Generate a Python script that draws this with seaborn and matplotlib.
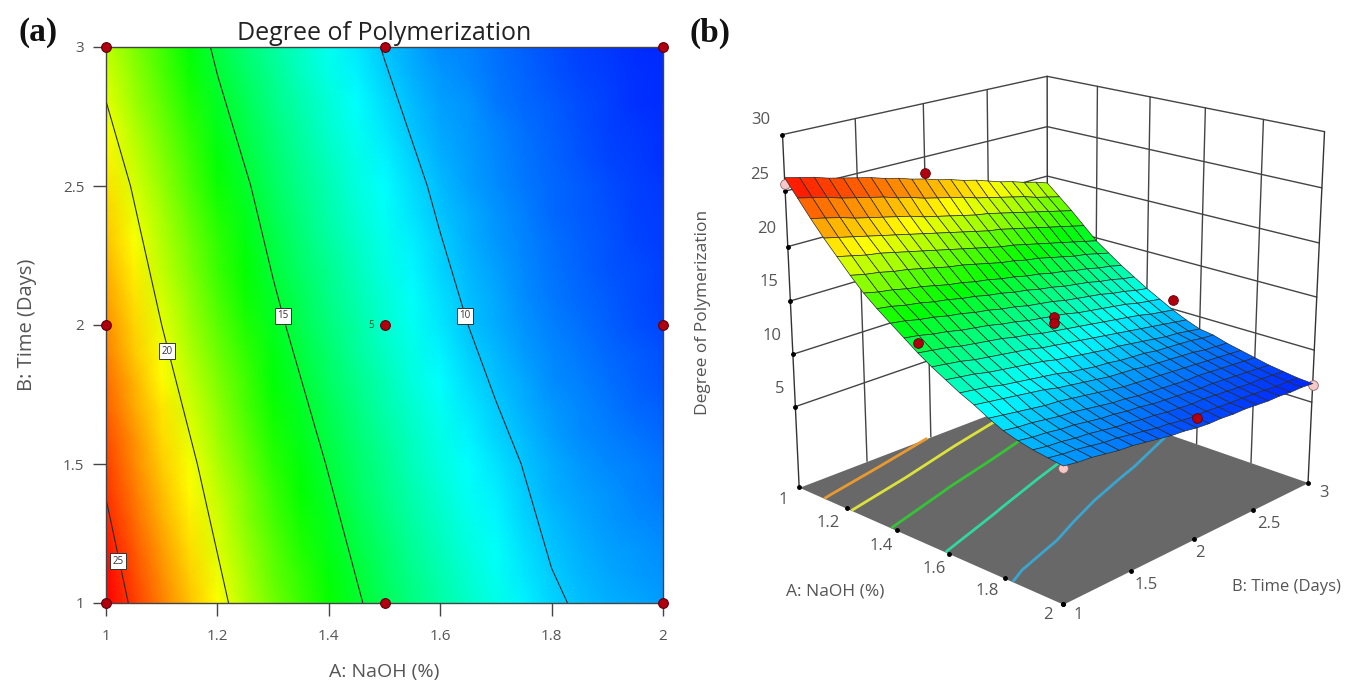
import numpy as np
import pandas as pd
import seaborn as sns
from matplotlib import pyplot as plt
from matplotlib.colors import LinearSegmentedColormap

naoh = [1.0, 1.05, 1.1, 1.15, 1.2, 1.25, 1.3, 1.35, 1.4, 1.45, 1.5, 1.55, 1.6, 1.65, 1.7, 1.75, 1.8, 1.85, 1.9, 1.95, 2.0]
days = [1.0, 1.1, 1.2, 1.3, 1.4, 1.5, 1.6, 1.7, 1.8, 1.9, 2.0, 2.1, 2.2, 2.3, 2.4, 2.5, 2.6, 2.7, 2.8, 2.9, 3.0]
# degree of polymerization, one row per time, estimated from the contour lines
dp = [
    [26.2, 24.7, 23.2, 21.8, 20.5, 19.2, 18.0, 17.0, 16.1, 15.2, 14.3, 13.5, 12.8, 12.1, 11.5, 10.8, 10.2, 9.8, 9.5, 9.3, 9.1],
    [25.9, 24.4, 22.9, 21.5, 20.2, 18.9, 17.7, 16.8, 15.9, 15.0, 14.1, 13.3, 12.6, 11.9, 11.3, 10.6, 10.0, 9.6, 9.3, 9.1, 8.9],
    [25.6, 24.1, 22.6, 21.2, 19.9, 18.7, 17.5, 16.5, 15.6, 14.7, 13.9, 13.1, 12.4, 11.7, 11.1, 10.4, 9.9, 9.5, 9.2, 9.0, 8.8],
    [25.2, 23.7, 22.2, 20.9, 19.7, 18.4, 17.2, 16.3, 15.4, 14.5, 13.6, 12.8, 12.1, 11.4, 10.9, 10.2, 9.7, 9.3, 9.0, 8.8, 8.6],
    [24.9, 23.4, 21.9, 20.6, 19.4, 18.2, 17.0, 16.0, 15.1, 14.2, 13.4, 12.6, 11.9, 11.2, 10.7, 10.0, 9.5, 9.2, 8.9, 8.6, 8.4],
    [24.6, 23.1, 21.6, 20.3, 19.1, 17.9, 16.7, 15.8, 14.9, 14.0, 13.2, 12.4, 11.7, 11.0, 10.5, 9.9, 9.4, 9.0, 8.7, 8.5, 8.3],
    [24.3, 22.8, 21.3, 20.0, 18.8, 17.6, 16.4, 15.5, 14.6, 13.8, 13.0, 12.2, 11.5, 10.8, 10.2, 9.7, 9.2, 8.8, 8.5, 8.3, 8.1],
    [23.9, 22.4, 21.0, 19.7, 18.5, 17.3, 16.2, 15.3, 14.4, 13.5, 12.7, 12.0, 11.3, 10.6, 10.0, 9.5, 9.0, 8.7, 8.4, 8.1, 7.9],
    [23.6, 22.1, 20.6, 19.4, 18.2, 17.1, 15.9, 15.0, 14.1, 13.3, 12.5, 11.7, 11.0, 10.3, 9.8, 9.3, 8.8, 8.5, 8.2, 7.9, 7.7],
    [23.2, 21.7, 20.3, 19.1, 17.9, 16.8, 15.7, 14.8, 13.9, 13.0, 12.2, 11.5, 10.8, 10.1, 9.6, 9.1, 8.7, 8.4, 8.1, 7.8, 7.6],
    [22.9, 21.4, 20.0, 18.8, 17.6, 16.5, 15.4, 14.5, 13.6, 12.8, 12.0, 11.3, 10.6, 9.9, 9.4, 8.9, 8.5, 8.2, 7.9, 7.6, 7.4],
    [22.5, 21.1, 19.7, 18.5, 17.3, 16.2, 15.2, 14.3, 13.4, 12.6, 11.8, 11.1, 10.4, 9.8, 9.3, 8.8, 8.4, 8.1, 7.8, 7.5, 7.3],
    [22.2, 20.8, 19.4, 18.2, 17.0, 16.0, 14.9, 14.0, 13.2, 12.4, 11.6, 10.9, 10.2, 9.6, 9.2, 8.7, 8.3, 8.0, 7.7, 7.5, 7.3],
    [21.8, 20.4, 19.2, 18.0, 16.8, 15.7, 14.7, 13.8, 12.9, 12.1, 11.4, 10.7, 10.1, 9.5, 9.0, 8.6, 8.2, 7.9, 7.7, 7.4, 7.2],
    [21.5, 20.1, 18.9, 17.7, 16.5, 15.5, 14.4, 13.5, 12.7, 11.9, 11.2, 10.5, 9.9, 9.4, 8.9, 8.5, 8.1, 7.8, 7.6, 7.3, 7.2],
    [21.1, 19.8, 18.6, 17.4, 16.2, 15.2, 14.2, 13.3, 12.5, 11.7, 11.0, 10.3, 9.7, 9.2, 8.8, 8.4, 8.1, 7.8, 7.5, 7.3, 7.1],
    [20.7, 19.5, 18.3, 17.1, 15.9, 14.9, 13.9, 13.1, 12.3, 11.5, 10.8, 10.1, 9.5, 9.1, 8.7, 8.3, 8.0, 7.7, 7.4, 7.2, 7.0],
    [20.4, 19.2, 18.0, 16.8, 15.6, 14.6, 13.7, 12.8, 12.0, 11.3, 10.6, 9.9, 9.3, 9.0, 8.6, 8.2, 7.9, 7.6, 7.3, 7.1, 7.0],
    [20.0, 18.8, 17.7, 16.5, 15.3, 14.4, 13.4, 12.6, 11.8, 11.0, 10.3, 9.7, 9.2, 8.9, 8.4, 8.1, 7.8, 7.5, 7.3, 7.0, 6.9],
    [19.7, 18.5, 17.4, 16.2, 15.0, 14.1, 13.2, 12.3, 11.5, 10.8, 10.1, 9.5, 9.0, 8.7, 8.3, 8.0, 7.7, 7.4, 7.2, 7.0, 6.9],
    [19.3, 18.2, 17.1, 15.9, 14.7, 13.8, 12.9, 12.1, 11.3, 10.6, 9.9, 9.3, 8.8, 8.6, 8.2, 7.9, 7.6, 7.3, 7.1, 6.9, 6.8],
]

design_a = [1, 1.5, 2, 1, 1.5, 2, 1, 1.5, 2]
design_b = [1, 1, 1, 2, 2, 2, 3, 3, 3]
contour_levels = [10, 15, 20, 25]
floor_levels = [10, 13, 16.5, 20, 23]
floor_colors = ['#3aa6d0', '#30d8a0', '#35c435', '#dce23c', '#e89a30']
a_ticks = [1, 1.2, 1.4, 1.6, 1.8, 2]
b_ticks = [1, 1.5, 2, 2.5, 3]
z_ticks = [5, 10, 15, 20, 25, 30]

# runs above / below the surface in (b)
red_a = [1.0, 1.5, 1.5, 1.5, 1.5, 2.0]
red_b = [2.0, 3.0, 1.0, 2.0, 2.0, 2.0]
red_z = [23.5, 10.9, 15.2, 13.3, 12.8, 8.3]
pink_a = [1.0, 2.0, 2.0]
pink_b = [1.0, 1.0, 3.0]
pink_z = [25.6, 8.95, 6.7]

W, H = 1345, 686
FLOOR, TOP = -2.9, 30
VMIN, VMAX = 6.0, 26.0
GREY = '#555555'


def fx(x):
    return x / W


def fy(y):
    return (H - y) / H


sns.set_style('white')
plt.rcParams['font.family'] = ['Open Sans', 'DejaVu Sans']

fig = plt.figure(figsize=(W / 100, H / 100), dpi=100)
dp_cmap = LinearSegmentedColormap.from_list(
    'dp', [(0, '#0000ff'), (0.25, '#00ffff'), (0.5, '#00ff00'), (0.725, '#ffff00'), (1, '#ff0000')])
dp_table = pd.DataFrame(dp, index=days, columns=naoh)

# (a) contour map
ax = fig.add_axes([fx(106), fy(603), 557 / W, 556 / H])
sns.heatmap(dp_table, ax=ax, cmap=dp_cmap, vmin=VMIN, vmax=VMAX, cbar=False,
            xticklabels=False, yticklabels=False, shading='gouraud')
ax.set_xlim(0, 20)
ax.set_ylim(0, 20)
# thinned grid keeps the lines from wobbling on the rounded values
ax.contour(np.arange(21)[::2], np.arange(21)[::5], dp_table.values[::5, ::2], levels=contour_levels,
           colors='#2b2b2b', linewidths=0.8)
ax.plot([(a - 1) * 20 for a in design_a], [(b - 1) * 10 for b in design_b], 'o', ms=7,
        mfc='#b00010', mec='#5a0008', mew=0.8, clip_on=False, zorder=5)
ax.set_xticks([(a - 1) * 20 for a in a_ticks], [str(a) for a in a_ticks])
ax.set_yticks([(b - 1) * 10 for b in b_ticks], [str(b) for b in b_ticks])
ax.tick_params(length=9.5, width=1, color='#444444', labelcolor=GREY, labelsize=11, bottom=True, left=True, pad=6)
ax.tick_params(axis='x', pad=9)
for sp in ax.spines.values():
    sp.set_visible(True)
    sp.set_color('#444444')
    sp.set_linewidth(1)
ax.set_title('Degree of Polymerization', fontsize=18, color='#222222', pad=5)
ax.set_xlabel('A: NaOH (%)', fontsize=14, color=GREY, labelpad=14)
ax.set_ylabel('B: Time (Days)', fontsize=14.5, color=GREY, labelpad=19)

for lab, x, y in [('25', 118, 561), ('20', 167, 351), ('15', 283, 316), ('10', 465, 316)]:
    fig.text(fx(x), fy(y), lab, fontsize=7, color='#333333', ha='center', va='center',
             bbox=dict(boxstyle='square,pad=0.25', fc='white', ec='#333333', lw=0.7))
fig.text(fx(371), fy(325), '5', fontsize=7, color='#2a5a2a', ha='center', va='center')
fig.text(fx(38), fy(33), '(a)', family='Liberation Serif', weight='bold', fontsize=24, color='#111111', ha='center', va='center')
fig.text(fx(710), fy(33), '(b)', family='Liberation Serif', weight='bold', fontsize=24, color='#111111', ha='center', va='center')

# (b) response surface, view fitted to the box corners of the reference
L = 624.6
ax3 = fig.add_axes([(1045.9 - L / 2) / W, (363 - L / 2) / H, L / W, L / H], projection='3d', computed_zorder=False)
ax3.set_axis_off()
ax3.set_xlim(1, 2, view_margin=0)
ax3.set_ylim(1, 3, view_margin=0)
ax3.set_zlim(FLOOR, TOP, view_margin=0)
ax3.view_init(elev=19.06, azim=-46.52)
ax3.set_proj_type('persp', focal_length=0.57)
ax3.set_box_aspect((1, 0.993, 0.998))

ax3.plot_surface(np.array([[1, 2], [1, 2]]), np.array([[1, 1], [3, 3]]), np.full((2, 2), FLOOR),
                 color='#686868', shade=False, linewidth=0, zorder=1)
for z in z_ticks:
    ax3.plot([1, 1, 2], [1, 3, 3], [z, z, z], color='#444444', lw=1, zorder=2)
for a in a_ticks[1:-1]:
    ax3.plot([a, a], [3, 3], [FLOOR, TOP], color='#444444', lw=1, zorder=2)
for b in b_ticks[1:-1]:
    ax3.plot([1, 1], [b, b], [FLOOR, TOP], color='#444444', lw=1, zorder=2)
for a, b in [(1, 1), (1, 3), (2, 3)]:
    ax3.plot([a, a], [b, b], [FLOOR, TOP], color='#333333', lw=1, zorder=2)
ax3.plot([1] * 6, [1] * 6, z_ticks, 'o', color='black', ms=2.5, zorder=2)
ax3.plot(a_ticks, [1] * 6, [FLOOR] * 6, 'o', color='black', ms=2.5, zorder=2)
ax3.plot([2] * 5, b_ticks, [FLOOR] * 5, 'o', color='black', ms=2.5, zorder=2)

A, B = np.meshgrid(naoh, days)
Z = np.array(dp)
ax3.contour(A[::5, ::2], B[::5, ::2], Z[::5, ::2], levels=floor_levels, zdir='z', offset=FLOOR,
            colors=floor_colors, linewidths=2, zorder=3)
ax3.plot(pink_a, pink_b, pink_z, 'o', ms=7, mfc='#f6c8c8', mec='#8a6a6a', mew=0.6, zorder=3.5)
ax3.plot_surface(A, B, Z, cmap=dp_cmap, vmin=VMIN, vmax=VMAX, rstride=1, cstride=1, shade=False,
                 edgecolor='#2a2a2a', linewidth=0.5, zorder=4)
ax3.plot(red_a, red_b, red_z, 'o', ms=7, mfc='#b00010', mec='#5a0008', mew=0.6, zorder=5)

tick3d = [('30', 761, 120), ('25', 760, 175), ('20', 767, 229), ('15', 769, 282), ('10', 772, 336), ('5', 780, 389),
          ('1', 783, 500), ('1.2', 828, 523), ('1.4', 881, 546), ('1.6', 934, 569), ('1.8', 987, 591), ('2', 1048, 615),
          ('1', 1078, 615), ('1.5', 1146, 585), ('2', 1200, 553), ('2.5', 1269, 524), ('3', 1324, 493)]
for lab, x, y in tick3d:
    fig.text(fx(x), fy(y), lab, fontsize=12, color=GREY, ha='center', va='center')
fig.text(fx(835), fy(591), 'A: NaOH (%)', fontsize=12.5, color=GREY, ha='center', va='center')
fig.text(fx(1286), fy(587), 'B: Time (Days)', fontsize=12, color=GREY, ha='center', va='center')
fig.text(fx(703), fy(312), 'Degree of Polymerization', fontsize=12.5, color=GREY, rotation=90, ha='center', va='center')

fig.savefig('out.png', dpi=100)
